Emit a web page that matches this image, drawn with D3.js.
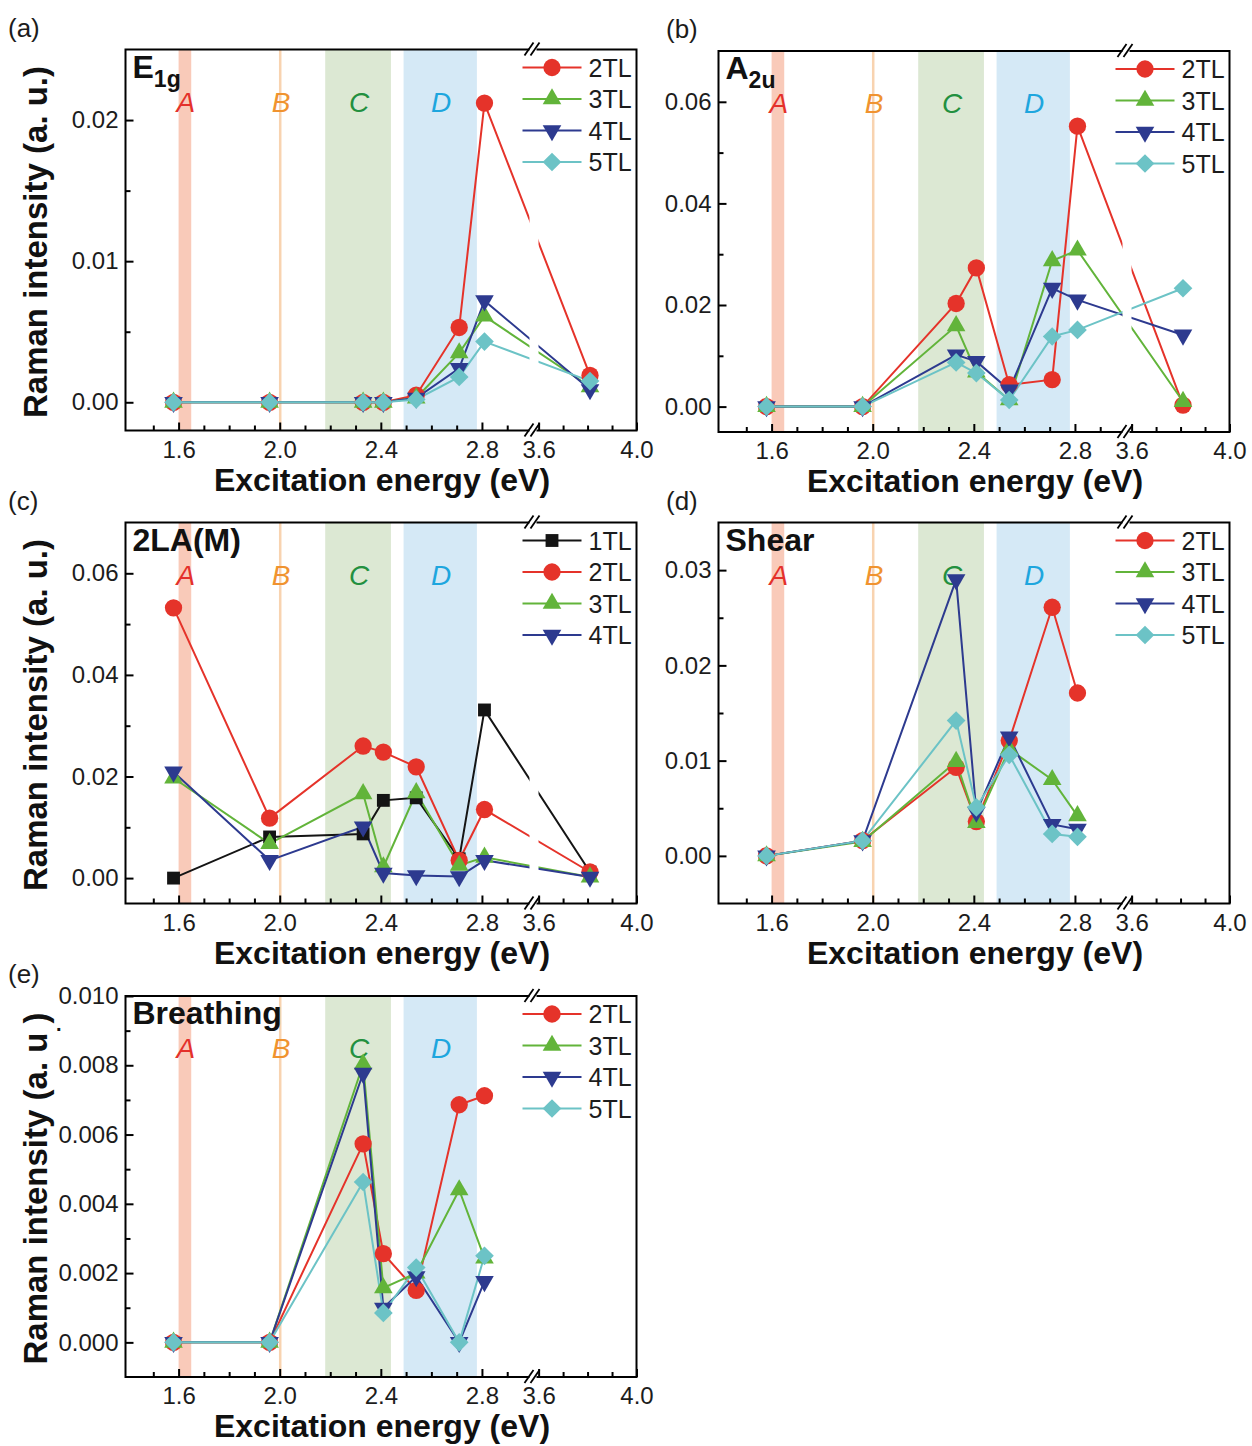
<!DOCTYPE html>
<html>
<head>
<meta charset="utf-8">
<script src="https://cdn.jsdelivr.net/npm/d3@7"></script>
<style>
  body { margin: 0; background: #fff; }
  svg text { font-family: 'Liberation Sans', Arial, sans-serif; }
</style>
</head>
<body>
<div id="chart"></div>
<script>
// excitation energies (eV) of the laser lines
const ENERGY = [1.58, 1.96, 2.33, 2.41, 2.54, 2.71, 2.81, 3.81];

// (a) E1g
const E1G_2TL = [0, 0, 0, 0, 0.0005, 0.0053, 0.0212, 0.0019];
const E1G_3TL = [0, 0, 0, 0, 0.0003, 0.0035, 0.0061, 0.0011];
const E1G_4TL = [0, 0, 0, 0, 0.0003, 0.0024, 0.0072, 0.0009];
const E1G_5TL = [0, 0, 0, 0, 0.0002, 0.0018, 0.0043, 0.0015];

// (b) A2u
const A2U_2TL = [0, 0, 0.0203, 0.0273, 0.0043, 0.0053, 0.0552, 0.0003];
const A2U_3TL = [0, 0, 0.0159, 0.0068, 0.0013, 0.0287, 0.0308, 0.0010];
const A2U_4TL = [0, 0, 0.0102, 0.0089, 0.0033, 0.0233, 0.0210, 0.0141];
const A2U_5TL = [0, 0, 0.0087, 0.0066, 0.0013, 0.0138, 0.0151, 0.0233];

// (c) 2LA(M)
const LA_1TL = [0, 0.0081, 0.0087, 0.0153, 0.0158, 0.0038, 0.0331, 0.0012];
const LA_2TL = [0.0532, 0.0118, 0.0260, 0.0248, 0.0219, 0.0035, 0.0135, 0.0012];
const LA_3TL = [0.0197, 0.0068, 0.0166, 0.0022, 0.0168, 0.0025, 0.0041, 0.0002];
const LA_4TL = [0.0209, 0.0035, 0.0101, 0.0010, 0.0005, 0.0003, 0.0035, 0.0002];

// (d) Shear, no point at 3.81 eV
const SH_2TL = [0, 0.0016, 0.0093, 0.0036, 0.0121, 0.0261, 0.0171, null];
const SH_3TL = [0, 0.0015, 0.0099, 0.0035, 0.0112, 0.0080, 0.0042, null];
const SH_4TL = [0, 0.0016, 0.0290, 0.0046, 0.0125, 0.0033, 0.0028, null];
const SH_5TL = [0, 0.0016, 0.0142, 0.0051, 0.0106, 0.0023, 0.0020, null];

// (e) Breathing, no point at 3.81 eV
const BR_2TL = [0, 0, 0.00573, 0.00256, 0.00150, 0.00686, 0.00712, null];
const BR_3TL = [0, 0, 0.00803, 0.00157, 0.00200, 0.00440, 0.00243, null];
const BR_4TL = [0, 0, 0.00777, 0.00099, 0.00190, 0.00000, 0.00176, null];
const BR_5TL = [0, 0, 0.00463, 0.00085, 0.00216, 0.00000, 0.00250, null];

// resonance regions
const BAND_NAMES = ['A', 'B', 'C', 'D'];
const BAND_LO = [1.600, 1.997, 2.18, 2.49];
const BAND_HI = [1.650, 2.007, 2.44, 2.78];

const X_MAJOR = [1.6, 2.0, 2.4, 2.8, 3.6, 4.0];
const X_MINOR = [1.5, 1.7, 1.8, 1.9, 2.1, 2.2, 2.3, 2.5, 2.6, 2.7, 2.9, 3.7, 3.8, 3.9];

const W = 511;
const H = 381;
const BREAK = 407;

const BAND_FILL = { A: '#f9cab9', B: '#f8d3b0', C: '#dce8d3', D: '#d5e9f6' };
const BAND_TEXT = { A: '#e4312b', B: '#f0932f', C: '#23903f', D: '#1ea6de' };

const STYLE = {
  '1TL': { color: '#141414', type: d3.symbolSquare, size: 165, rotate: 0 },
  '2TL': { color: '#e5332a', type: d3.symbolCircle, size: 235, rotate: 0 },
  '3TL': { color: '#62b43a', type: d3.symbolTriangle, size: 150, rotate: 0 },
  '4TL': { color: '#2d3a8f', type: d3.symbolTriangle, size: 150, rotate: 180 },
  '5TL': { color: '#6cc3c6', type: d3.symbolSquare, size: 175, rotate: 45 },
};

const PANELS = [
  { tag: '(a)', tagX: 8, left: 125.5, top: 49.5, mode: ['E', '1g'], yTitle: 'Raman intensity (a. u.)',
    yDomain: [-0.002, 0.025], yMajor: [0, 0.01, 0.02], yMinor: [0.005, 0.015], fmt: '.2f',
    series: [['2TL', E1G_2TL], ['3TL', E1G_3TL], ['4TL', E1G_4TL], ['5TL', E1G_5TL]] },
  { tag: '(b)', tagX: 666, left: 718.5, top: 51, mode: ['A', '2u'], yTitle: null,
    yDomain: [-0.005, 0.07], yMajor: [0, 0.02, 0.04, 0.06], yMinor: [0.01, 0.03, 0.05], fmt: '.2f',
    series: [['2TL', A2U_2TL], ['3TL', A2U_3TL], ['4TL', A2U_4TL], ['5TL', A2U_5TL]] },
  { tag: '(c)', tagX: 8, left: 125.5, top: 522.5, mode: ['2LA(M)', ''], yTitle: 'Raman intensity (a. u.)',
    yDomain: [-0.005, 0.07], yMajor: [0, 0.02, 0.04, 0.06], yMinor: [0.01, 0.03, 0.05], fmt: '.2f',
    series: [['1TL', LA_1TL], ['2TL', LA_2TL], ['3TL', LA_3TL], ['4TL', LA_4TL]] },
  { tag: '(d)', tagX: 666, left: 718.5, top: 522.5, mode: ['Shear', ''], yTitle: null,
    yDomain: [-0.005, 0.035], yMajor: [0, 0.01, 0.02, 0.03], yMinor: [0.005, 0.015, 0.025], fmt: '.2f',
    series: [['2TL', SH_2TL], ['3TL', SH_3TL], ['4TL', SH_4TL], ['5TL', SH_5TL]] },
  { tag: '(e)', tagX: 8, left: 125.5, top: 996, mode: ['Breathing', ''], yTitle: 'Raman intensity (a. u )',
    yDomain: [-0.001, 0.010], yMajor: [0, 0.002, 0.004, 0.006, 0.008, 0.010],
    yMinor: [0.001, 0.003, 0.005, 0.007, 0.009], fmt: '.3f',
    series: [['2TL', BR_2TL], ['3TL', BR_3TL], ['4TL', BR_4TL], ['5TL', BR_5TL]] },
];

const svg = d3.select('#chart').append('svg')
  .attr('width', 1252)
  .attr('height', 1446);

svg.append('rect')
  .attr('width', 1252)
  .attr('height', 1446)
  .attr('fill', '#fff');

function marker(name) {
  const s = STYLE[name];
  return d3.symbol().type(s.type).size(s.size)();
}

function styleAxis(ax) {
  ax.attr('font-size', null).attr('font-family', null);
  ax.select('.domain').remove();
  ax.selectAll('line').attr('stroke', '#000').attr('stroke-width', 2);
  ax.selectAll('text').attr('fill', '#1c1c1c').style('font-size', '24px');
}

function drawPanel(p) {
  svg.append('text')
    .attr('x', p.tagX)
    .attr('y', p.top - 13)
    .style('font-size', '26px')
    .attr('fill', '#1c1c1c')
    .text(p.tag);

  const g = svg.append('g')
    .attr('transform', `translate(${p.left},${p.top})`);

  // broken axis: 1.39-3.0 eV, then 3.575-4.0 eV
  const x = d3.scaleLinear()
    .domain([1.39, 3.0, 3.575, 4.0])
    .range([0, BREAK, BREAK, W]);
  const y = d3.scaleLinear()
    .domain(p.yDomain)
    .range([H, 0]);

  // shaded resonance regions
  BAND_NAMES.forEach((b, i) => {
    g.append('rect')
      .attr('x', x(BAND_LO[i]))
      .attr('y', 0)
      .attr('width', x(BAND_HI[i]) - x(BAND_LO[i]))
      .attr('height', H)
      .attr('fill', BAND_FILL[b]);
    g.append('text')
      .attr('x', x((BAND_LO[i] + BAND_HI[i]) / 2) + 1)
      .attr('y', 62)
      .attr('text-anchor', 'middle')
      .style('font-size', '28px')
      .style('font-style', 'italic')
      .attr('fill', BAND_TEXT[b])
      .text(b);
  });

  const line = d3.line()
    .defined(d => d[1] !== null)
    .x(d => x(d[0]))
    .y(d => y(d[1]));

  p.series.forEach(([name, values]) => {
    const pts = ENERGY.map((e, i) => [e, values[i]]);
    g.append('path')
      .datum(pts)
      .attr('d', line)
      .attr('fill', 'none')
      .attr('stroke', STYLE[name].color)
      .attr('stroke-width', 2);
  });

  // gap where the lines cross the axis break
  g.append('rect')
    .attr('x', BREAK - 3)
    .attr('y', 1)
    .attr('width', 9)
    .attr('height', H - 2)
    .attr('fill', '#fff');

  p.series.forEach(([name, values]) => {
    const pts = ENERGY.map((e, i) => [e, values[i]]).filter(d => d[1] !== null);
    g.append('g').selectAll('path')
      .data(pts)
      .enter().append('path')
      .attr('d', marker(name))
      .attr('transform', d => `translate(${x(d[0])},${y(d[1])}) rotate(${STYLE[name].rotate})`)
      .attr('fill', STYLE[name].color);
  });

  // legend
  const legend = g.append('g')
    .attr('transform', 'translate(397,18)');
  p.series.forEach(([name], i) => {
    const row = legend.append('g')
      .attr('transform', `translate(0,${i * 31.5})`);
    row.append('line')
      .attr('x1', 0)
      .attr('x2', 59)
      .attr('stroke', STYLE[name].color)
      .attr('stroke-width', 2);
    row.append('path')
      .attr('d', marker(name))
      .attr('transform', `translate(29.5,0) rotate(${STYLE[name].rotate})`)
      .attr('fill', STYLE[name].color);
    row.append('text')
      .attr('x', 66)
      .attr('y', 9)
      .style('font-size', '25px')
      .attr('fill', '#1c1c1c')
      .text(name);
  });

  // axes with inward ticks
  styleAxis(g.append('g')
    .call(d3.axisLeft(y).tickValues(p.yMajor).tickSize(-8).tickPadding(7)
      .tickFormat(d3.format(p.fmt))));
  styleAxis(g.append('g')
    .call(d3.axisLeft(y).tickValues(p.yMinor).tickSize(-5).tickFormat('')));
  styleAxis(g.append('g')
    .attr('transform', `translate(0,${H})`)
    .call(d3.axisBottom(x).tickValues(X_MAJOR).tickSize(-8).tickPadding(10)
      .tickFormat(d3.format('.1f'))));
  styleAxis(g.append('g')
    .attr('transform', `translate(0,${H})`)
    .call(d3.axisBottom(x).tickValues(X_MINOR).tickSize(-5).tickFormat('')));

  g.append('rect')
    .attr('width', W)
    .attr('height', H)
    .attr('fill', 'none')
    .attr('stroke', '#000')
    .attr('stroke-width', 2);

  // break marks on top and bottom frame
  [0, H].forEach((yy) => {
    const c = BREAK + 2;
    g.append('rect')
      .attr('x', c - 5)
      .attr('y', yy - 2)
      .attr('width', 7)
      .attr('height', 4)
      .attr('fill', '#fff');
    [-6, 0].forEach((dx) => {
      g.append('line')
        .attr('x1', c + dx - 4)
        .attr('y1', yy + 6)
        .attr('x2', c + dx + 5)
        .attr('y2', yy - 7)
        .attr('stroke', '#000')
        .attr('stroke-width', 1.8);
    });
  });

  // mode name
  const mode = g.append('text')
    .attr('x', 7)
    .attr('y', 28)
    .style('font-size', '32px')
    .style('font-weight', 'bold')
    .attr('fill', '#111');
  mode.append('tspan').text(p.mode[0]);
  if (p.mode[1]) {
    mode.append('tspan')
      .attr('dy', 9)
      .style('font-size', '23px')
      .text(p.mode[1]);
  }

  svg.append('text')
    .attr('x', p.left + W / 2 + 1)
    .attr('y', p.top + H + 60)
    .attr('text-anchor', 'middle')
    .style('font-size', '32px')
    .style('font-weight', 'bold')
    .attr('fill', '#111')
    .text('Excitation energy (eV)');

  if (p.yTitle) {
    svg.append('text')
      .attr('transform', `translate(47,${p.top + H / 2 + 2}) rotate(-90)`)
      .attr('text-anchor', 'middle')
      .style('font-size', '33px')
      .style('font-weight', 'bold')
      .attr('fill', '#111')
      .text(p.yTitle);
  }
}

PANELS.forEach(drawPanel);

// stray dot next to the last y title
svg.append('text')
  .attr('x', 56)
  .attr('y', 1031)
  .style('font-size', '20px')
  .style('font-weight', 'bold')
  .attr('fill', '#111')
  .text('.');
</script>
</body>
</html>
